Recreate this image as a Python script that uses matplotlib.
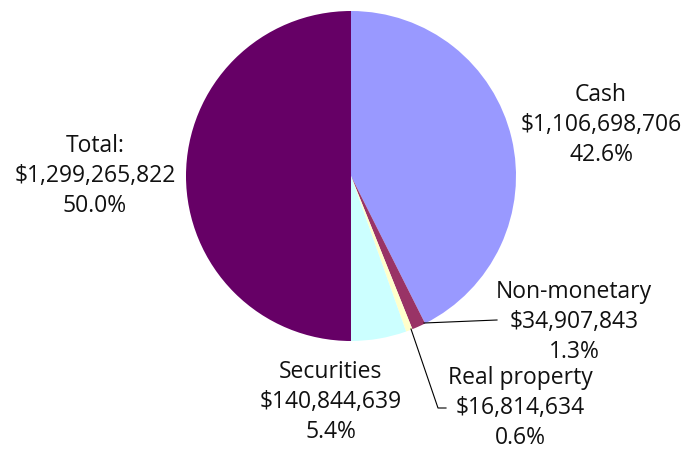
import matplotlib
matplotlib.use("Agg")
import matplotlib.pyplot as plt

categories = ["Cash", "Non-monetary", "Real property", "Securities", "Total:"]
values = [1106698706, 34907843, 16814634, 140844639, 1299265822]
percents = ["42.6%", "1.3%", "0.6%", "5.4%", "50.0%"]
colors = ["#9999FF", "#993366", "#FFFFCC", "#CCFFFF", "#660066"]

plt.rcParams['font.family'] = ['Open Sans', 'DejaVu Sans']

W, H = 688, 449
fig = plt.figure(figsize=(W / 100, H / 100), dpi=100)
ax = fig.add_axes([0, 0, 1, 1])

cx, cy, r = 351, H - 176, 165
ax.pie(values, colors=colors, startangle=90, counterclock=False,
       center=(cx, cy), radius=r, frame=True,
       wedgeprops=dict(linewidth=0))
ax.set_xlim(0, W)
ax.set_ylim(0, H)
ax.set_aspect('equal')
ax.axis('off')

def lab(i):
    return f"{categories[i]}\n${values[i]:,}\n{percents[i]}"

pos = [(601, 125), (574, 322), (520, 408), (331, 402), (95, 176)]
for i, (px, py) in enumerate(pos):
    ax.text(px, H - py, lab(i), ha='center', va='center', fontsize=16.5,
            color='#111111', linespacing=1.36)

# leader lines
ax.plot([424, 497], [H - 323, H - 320], color='black', lw=0.8)
ax.plot([411, 438, 446], [H - 329, H - 408, H - 408], color='black', lw=0.8)

fig.savefig("out.png", dpi=100)
